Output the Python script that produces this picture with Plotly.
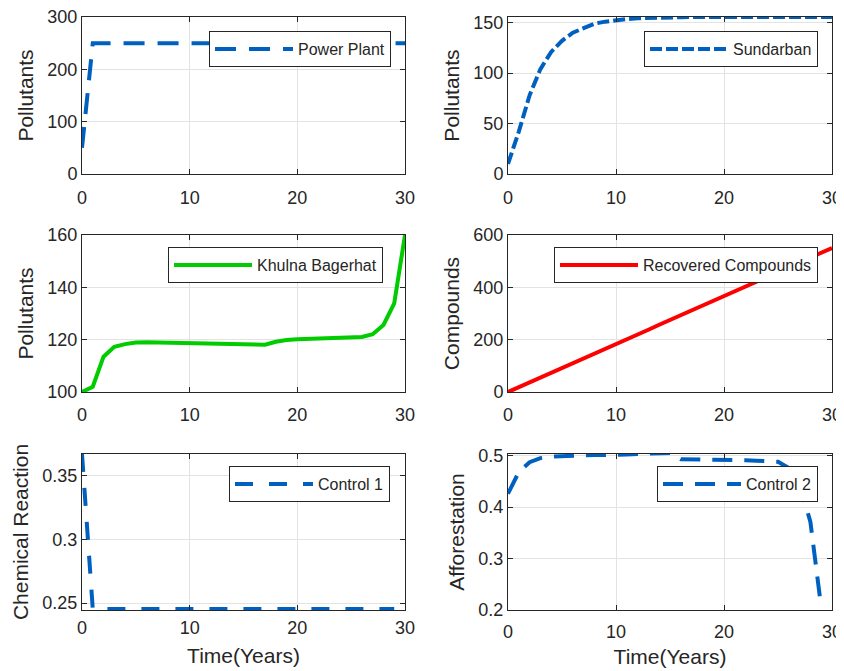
import plotly.graph_objects as go

time_full = [0, 1, 2, 3, 4, 5, 6, 7, 8, 9, 10, 11, 12, 13, 14, 15, 16, 17, 18, 19, 20,
             21, 22, 23, 24, 25, 26, 27, 28, 29, 30]
time_ctrl = [0, 1, 2, 3, 4, 5, 6, 7, 8, 9, 10, 11, 12, 13, 14, 15, 16, 17, 18, 19, 20,
             21, 22, 23, 24, 25, 26, 27, 28, 29]

power_plant = [50, 250, 250, 250, 250, 250, 250, 250, 250, 250, 250, 250, 250, 250, 250, 250,
               250, 250, 250, 250, 250, 250, 250, 250, 250, 250, 250, 250, 250, 250, 250]
sundarban = [10, 42, 78, 104, 121, 132, 140, 145, 149, 151, 152.5, 153.5, 154.3, 154.8, 155.1,
             155.3, 155.4, 155.5, 155.5, 155.5, 155.5, 155.5, 155.5, 155.5, 155.5, 155.5, 155.5,
             155.5, 155.5, 155.5, 155.5]
khulna = [100, 102, 113.5, 117.3, 118.3, 118.9, 119, 118.9, 118.8, 118.7, 118.6, 118.5, 118.4,
          118.4, 118.3, 118.3, 118.2, 118.1, 119.2, 119.9, 120.2, 120.3, 120.4, 120.5, 120.6,
          120.8, 121, 122.1, 125.6, 133.9, 160]
recovered = [0, 18, 37, 55, 73, 92, 110, 128, 147, 165, 184, 202, 220, 238, 257, 275, 293, 312,
             330, 348, 367, 385, 403, 422, 440, 458, 477, 495, 513, 532, 550]
control1 = [0.367, 0.2453, 0.2453, 0.2453, 0.2453, 0.2453, 0.2453, 0.2453, 0.2453, 0.2453,
            0.2453, 0.2453, 0.2453, 0.2453, 0.2453, 0.2453, 0.2453, 0.2453, 0.2453, 0.2453,
            0.2453, 0.2453, 0.2453, 0.2453, 0.2453, 0.2453, 0.2453, 0.2453, 0.2453, 0.2453]
control2 = [0.426, 0.468, 0.487, 0.495, 0.498, 0.499, 0.500, 0.5005, 0.501, 0.501, 0.501, 0.502,
            0.503, 0.504, 0.5045, 0.505, 0.493, 0.492, 0.492, 0.492, 0.492, 0.491, 0.491, 0.490,
            0.489, 0.488, 0.476, 0.445, 0.371, 0.205]

x_ticks = [0, 10, 20, 30]
y_ticks = [[0, 100, 200, 300], [0, 50, 100, 150], [100, 120, 140, 160],
           [0, 200, 400, 600], [0.25, 0.3, 0.35], [0.2, 0.3, 0.4, 0.5]]
y_tick_text = [None, None, None, None, ["0.25", "0.3", "0.35"], ["0.2", "0.3", "0.4", "0.5"]]
y_ranges = [[0, 300], [0, 155.6], [100, 160], [0, 600], [0.2445, 0.367], [0.2, 0.503]]
y_titles = ["Pollutants", "Pollutants", "Pollutants", "Compounds",
            "Chemical Reaction", "Afforestation"]
names = ["Power Plant", "Sundarban", "Khulna Bagerhat", "Recovered Compounds",
         "Control 1", "Control 2"]

BLUE = "#0060BF"
series = [
    (time_full, power_plant, BLUE, "21px,13px"),
    (time_full, sundarban, BLUE, "12px,4px"),
    (time_full, khulna, "#00CC00", "solid"),
    (time_full, recovered, "#FF0000", "solid"),
    (time_ctrl, control1, BLUE, "18px,16px"),
    (time_ctrl, control2, BLUE, "20px,12px"),
]

# page body has an 8px default margin: figure is drawn offset by 8px
OFF = 8
W, H = 844 - OFF, 671 - OFF
x_dom_px = [(82, 405), (508, 832)]
y_dom_px = [(17, 174), (235, 392), (454, 610)]
legend_pos = [(391, 31), (818, 31), (383, 247), (818, 247), (390, 466), (818, 466)]
x_label_gap = [7, 7, 6, 6, 1, 5]
x_title_gap = [9, 9, 9, 9, 11, 8]

TXT = "#262626"
FONT = "Liberation Sans, Arial, sans-serif"

fig = go.Figure()
layout = dict(
    width=W, height=H, margin=dict(l=0, r=0, t=0, b=0, autoexpand=False),
    paper_bgcolor="white", plot_bgcolor="white", showlegend=True,
    font=dict(family=FONT, color=TXT, size=18),
)

for i in range(6):
    row, col = divmod(i, 2)
    k = "" if i == 0 else str(i + 1)
    xs, ys, color, dash = series[i]
    fig.add_trace(go.Scatter(
        x=xs, y=ys, mode="lines", name=names[i], showlegend=True,
        line=dict(color=color, width=4, dash=dash),
        xaxis="x" + k, yaxis="y" + k, legend="legend" + k,
    ))
    x0, x1 = x_dom_px[col]
    yt, yb = y_dom_px[row]
    xa = dict(
        domain=[(x0 - OFF) / W, (x1 - OFF) / W], anchor="y" + k, range=[0, 30],
        tickvals=x_ticks, ticks="inside", ticklen=5, tickcolor=TXT,
        showline=True, linecolor=TXT, linewidth=1, mirror="ticks",
        showgrid=True, gridcolor="#E3E3E3", zeroline=False, automargin=False,
        tickfont=dict(size=18, color=TXT), ticklabeloverflow="allow",
        ticklabelstandoff=x_label_gap[i],
    )
    if row == 2:
        xa["title"] = dict(text="Time(Years)", font=dict(size=21, color=TXT),
                           standoff=x_title_gap[i])
    ya = dict(
        domain=[1 - (yb - OFF) / H, 1 - (yt - OFF) / H], anchor="x" + k, range=y_ranges[i],
        tickvals=y_ticks[i], ticks="inside", ticklen=5, tickcolor=TXT,
        showline=True, linecolor=TXT, linewidth=1, mirror="ticks",
        showgrid=True, gridcolor="#E3E3E3", zeroline=False, automargin=False,
        tickfont=dict(size=18, color=TXT), ticklabeloverflow="allow",
        title=dict(text=y_titles[i], font=dict(size=21, color=TXT), standoff=8),
    )
    if y_tick_text[i] is not None:
        ya["ticktext"] = y_tick_text[i]
    layout["xaxis" + k] = xa
    layout["yaxis" + k] = ya
    lx, ly = legend_pos[i]
    layout["legend" + k] = dict(
        x=(lx - OFF) / W, y=1 - (ly - OFF) / H, xanchor="right", yanchor="top",
        bgcolor="white", bordercolor=TXT, borderwidth=1, visible=True,
        font=dict(size=16, color=TXT), itemwidth=78,
        tracegroupgap=0,
    )

fig.update_layout(**layout)
fig.write_html("out.html")
